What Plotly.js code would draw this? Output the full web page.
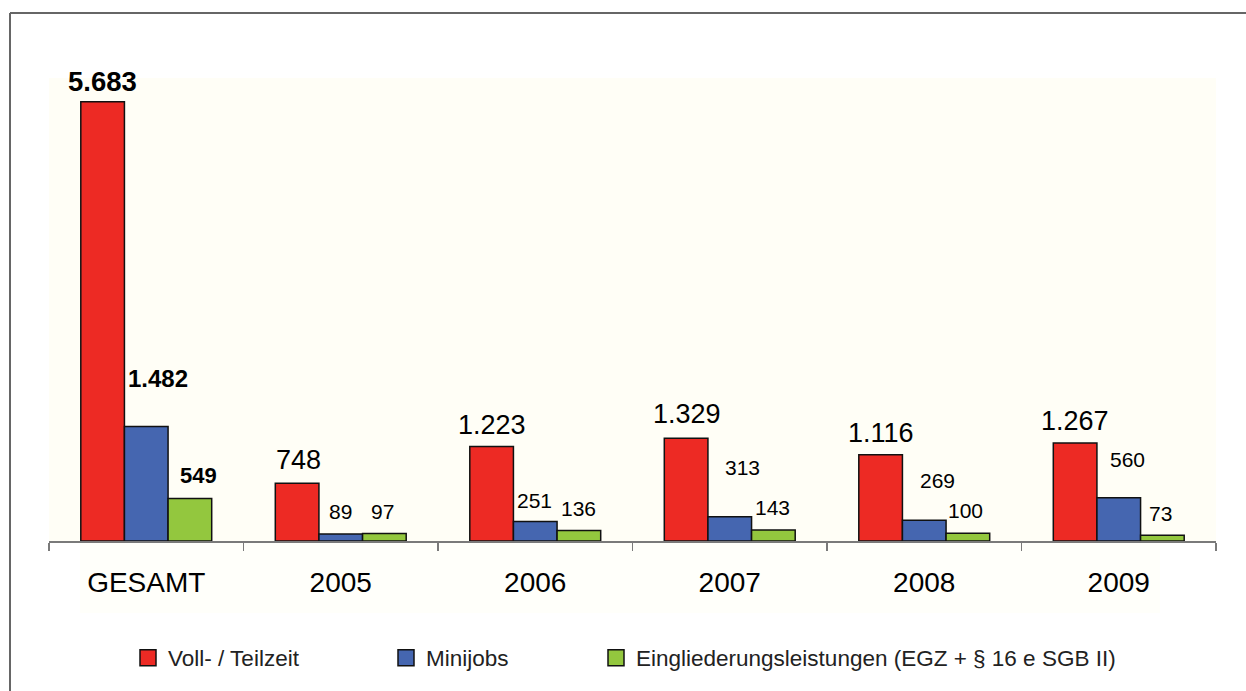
<!DOCTYPE html>
<html>
<head>
<meta charset="utf-8">
<script src="https://cdn.plot.ly/plotly-3.0.1.min.js"></script>
<style>html,body{margin:0;padding:0;background:#fff;}#chart{width:1246px;height:691px;}</style>
</head>
<body>
<div id="chart"></div>
<script>
// ---- data ----
const categories = ['GESAMT', '2005', '2006', '2007', '2008', '2009'];
const vollTeilzeit = [5683, 748, 1223, 1329, 1116, 1267];
const minijobs = [1482, 89, 251, 313, 269, 560];
const eingliederung = [549, 97, 136, 143, 100, 73];
const seriesNames = ['Voll- / Teilzeit', 'Minijobs', 'Eingliederungsleistungen (EGZ + § 16 e SGB II)'];

// ---- label tweaks (pixel shifts relative to bar top, as in the original) ----
const labelDx = [[0, 1, 0, 1, 0, 0], [12, 0, -1, 13, 13, 9], [9, -2, 0, -1, -2, -2]];
const labelDy = [[20, 23, 21, 24, 22, 22], [48, 23, 21, 49, 40, 38], [23, 22, 22, 22, 23, 22]];

const colors = ['#ED2A24', '#4566B0', '#93C73E'];
const FONT = 'Liberation Sans, Arial, sans-serif';
const bargap = 0.327;
const allSeries = [vollTeilzeit, minijobs, eingliederung];

const fmt = v => v.toLocaleString('de-DE');

const traces = allSeries.map((vals, s) => ({
  type: 'bar',
  x: categories,
  y: vals,
  name: seriesNames[s],
  showlegend: false,
  marker: {color: colors[s], line: {color: '#111', width: 1.5}},
  hoverinfo: 'x+y'
}));

// legend-only traces (larger square symbols)
const legendIds = ['legend', 'legend2', 'legend3'];
seriesNames.forEach((n, s) => {
  traces.push({
    type: 'scatter', mode: 'markers', x: [null], y: [null], name: n,
    legend: legendIds[s], showlegend: true,
    marker: {symbol: 'square', size: 16, color: colors[s], line: {color: '#111', width: 1.5}}
  });
});

const barW = (1 - bargap) / 3;
const annotations = [];
allSeries.forEach((vals, s) => {
  vals.forEach((v, i) => {
    const bold = i === 0;
    let size;
    if (s === 0) size = bold ? 27.5 : 27;
    else size = bold ? (s === 1 ? 24 : 22) : 21;
    annotations.push({
      x: i + (s - 1) * barW, y: v, xref: 'x', yref: 'y',
      text: bold ? '<b>' + fmt(v) + '</b>' : fmt(v),
      showarrow: false, xanchor: 'center', yanchor: 'middle',
      xshift: labelDx[s][i], yshift: labelDy[s][i],
      font: {family: FONT, size: size, color: '#000'}
    });
  });
});

// pixel -> paper helpers for the decorative frame
const L = 49, R = 30, T = 78, B = 150, W = 1246, H = 691;
const pw = W - L - R, ph = H - T - B;
const px = v => (v - L) / pw;
const py = v => (H - B - v) / ph;

const legendY = py(658);
const legendBase = {orientation: 'h', yanchor: 'middle', y: legendY, xanchor: 'left',
  bgcolor: 'rgba(0,0,0,0)', font: {family: FONT, size: 22.5, color: '#222'}, itemsizing: 'trace'};

const layout = {
  width: W, height: H,
  margin: {l: L, r: R, t: T, b: B},
  paper_bgcolor: '#ffffff',
  plot_bgcolor: '#FFFEF6',
  barmode: 'group', bargap: bargap, bargroupgap: 0,
  showlegend: true,
  legend: Object.assign({}, legendBase, {x: px(128)}),
  legend2: Object.assign({}, legendBase, {x: px(386)}),
  legend3: Object.assign({}, legendBase, {x: px(596)}),
  xaxis: {
    type: 'category', categoryorder: 'array', categoryarray: categories,
    tickson: 'boundaries', ticks: 'outside', ticklen: 8, tickwidth: 1.5, tickcolor: '#7a7a7a',
    showline: true, linecolor: '#7a7a7a', linewidth: 1.5,
    showgrid: false, zeroline: false, ticklabelstandoff: 16,
    tickfont: {family: FONT, size: 28, color: '#000'},
    fixedrange: true
  },
  yaxis: {
    range: [0, 5990], visible: false, showgrid: false, zeroline: false, fixedrange: true
  },
  annotations: annotations,
  shapes: [
    {type: 'rect', xref: 'paper', yref: 'paper', x0: px(80), x1: px(1160), y0: py(613), y1: py(543),
      fillcolor: '#FFFFFA', line: {width: 0}, layer: 'below'},
    {type: 'line', xref: 'paper', yref: 'paper', x0: px(10), x1: px(1260), y0: py(13), y1: py(13),
      line: {color: '#666', width: 2}},
    {type: 'line', xref: 'paper', yref: 'paper', x0: px(10), x1: px(10), y0: py(13), y1: py(700),
      line: {color: '#666', width: 2}}
  ]
};

Plotly.newPlot('chart', traces, layout, {displayModeBar: false, staticPlot: true});
</script>
</body>
</html>
